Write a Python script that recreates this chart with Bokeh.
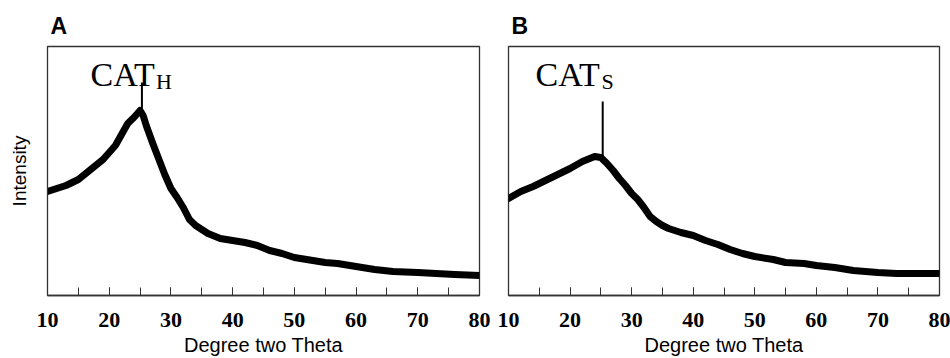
from bokeh.plotting import figure
from bokeh.layouts import row
from bokeh.models import SingleIntervalTicker, FixedTicker, Label
from bokeh.embed import file_html
from bokeh.resources import INLINE

# ---- data (arbitrary intensity units) ----
theta_a = [10, 13, 15, 17, 19, 20, 21, 22, 23, 24, 25, 25.5, 26, 27, 28, 29, 30, 31, 32, 33, 34, 35, 36,
           38, 40, 42, 44, 46, 48, 50, 53, 55, 57, 60, 63, 66, 70, 73, 76, 80]
int_a = [104, 110, 116, 126, 136, 143, 150, 161, 172, 178, 185, 180, 170, 153, 137, 121, 107, 98, 88, 76, 70, 66, 62,
         57, 55, 53, 50, 45, 42, 38, 35, 33, 32, 29, 26, 24, 23, 22, 21, 20]
spike_a_x = [25.3]
spike_a_base = [180]
spike_a_top = [213]

theta_b = [10, 12, 14, 16, 18, 20, 22, 24, 25, 26, 27, 28, 29, 30, 31, 32, 33, 34, 35, 36,
           38, 40, 42, 44, 46, 48, 50, 53, 55, 58, 60, 63, 66, 70, 73, 76, 80]
int_b = [97, 104, 109, 115, 121, 127, 134, 139, 138, 132, 125, 117, 110, 102, 96, 88, 79, 74, 70, 67,
         63, 60, 55, 51, 46, 42, 39, 36, 33, 32, 30, 28, 25, 23, 22, 22, 22]
spike_b_x = [25.3]
spike_b_base = [138]
spike_b_top = [194]

x_ticks_interval = 10
panel_titles = ["A", "B"]
sample_names = [("CAT", "H"), ("CAT", "S")]
x_label = "Degree two Theta"
y_label = "Intensity"

FRAME = "#333333"


def make_panel(theta, inten, sx, sbase, stop, title, name, width, b_left, b_right, show_y,
               name_x, sub_x):
    p = figure(width=width, height=358, x_range=(10, 80), y_range=(0, 249),
               output_backend="svg", toolbar_location=None,
               min_border_left=b_left, min_border_right=b_right,
               min_border_top=46, min_border_bottom=20)
    p.background_fill_color = "white"
    p.border_fill_color = "white"
    p.outline_line_color = FRAME
    p.outline_line_width = 1.3
    p.xgrid.visible = False
    p.ygrid.visible = False

    p.title.text = title
    p.title.text_font = "Liberation Sans"
    p.title.text_font_size = "23px"
    p.title.text_font_style = "bold"
    p.title.align = "left"
    p.title.offset = 3
    p.title.standoff = 15
    p.title.text_color = "black"

    # x axis
    xa = p.xaxis[0]
    xa.ticker = SingleIntervalTicker(interval=x_ticks_interval, num_minor_ticks=2)
    xa.major_tick_in = 8
    xa.major_tick_out = 0
    xa.minor_tick_in = 8
    xa.minor_tick_out = 0
    xa.major_tick_line_color = FRAME
    xa.minor_tick_line_color = FRAME
    xa.axis_line_color = FRAME
    xa.axis_line_width = 1.3
    xa.major_label_text_font = "Liberation Serif"
    xa.major_label_text_font_style = "bold"
    xa.major_label_text_font_size = "22px"
    xa.major_label_text_color = "black"
    xa.major_label_standoff = 17
    xa.axis_label = x_label
    xa.axis_label_text_font = "Liberation Sans"
    xa.axis_label_text_font_style = "normal"
    xa.axis_label_text_font_size = "20px"
    xa.axis_label_text_color = "black"
    xa.axis_label_standoff = 4

    ya = p.yaxis[0]
    if show_y:
        ya.ticker = FixedTicker(ticks=[])
        ya.axis_line_color = FRAME
        ya.axis_label = y_label
        ya.axis_label_text_font = "Liberation Sans"
        ya.axis_label_text_font_style = "normal"
        ya.axis_label_text_font_size = "19px"
        ya.axis_label_text_color = "black"
        ya.axis_label_standoff = 18
    else:
        ya.visible = False

    p.line(theta, inten, line_width=7, line_color="black", line_join="round", line_cap="round")
    p.segment(x0=sx, y0=sbase, x1=sx, y1=stop, line_width=2, line_color="black")

    p.add_layout(Label(x=name_x, y=221, text=name[0], text_font="Liberation Serif",
                       text_font_size="34px", text_color="black", text_baseline="alphabetic"))
    p.add_layout(Label(x=sub_x, y=214, text=name[1], text_font="Liberation Serif",
                       text_font_size="22px", text_color="black", text_baseline="alphabetic"))
    return p


pa = make_panel(theta_a, int_a, spike_a_x, spike_a_base, spike_a_top, panel_titles[0], sample_names[0],
                492, 47, 13, True, 16.97, 27.6)
pb = make_panel(theta_b, int_b, spike_b_x, spike_b_base, spike_b_top, panel_titles[1], sample_names[1],
                458, 16, 11, False, 14.39, 25.1)

layout = row(pa, pb, spacing=0)
open("out.html", "w").write(file_html(layout, INLINE))
